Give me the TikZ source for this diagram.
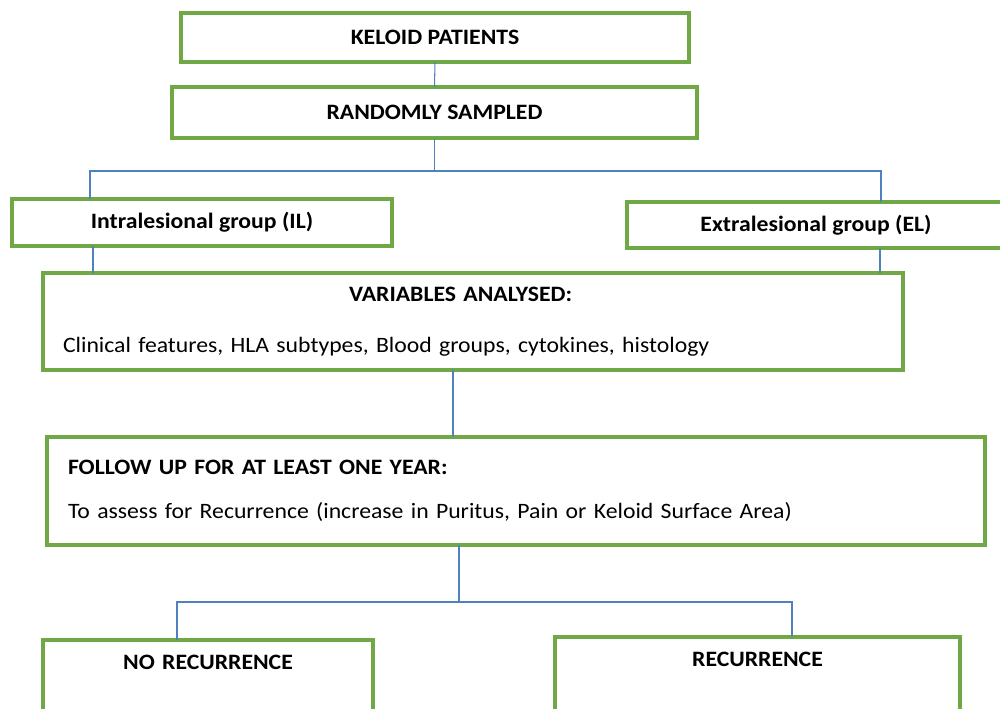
\documentclass[tikz,border=0pt]{standalone}
\usepackage{fontspec}
\setmainfont{Carlito}[FakeStretch=1.08]
\definecolor{boxgreen}{RGB}{112,168,70}
\definecolor{linkblue}{RGB}{79,129,189}
\tikzset{
  box/.style={draw=boxgreen,line width=2.4pt,inner sep=0pt,outer sep=0pt,font=\fontsize{12.5}{15}\selectfont},
  link/.style={draw=linkblue,line width=0.6pt},
}
\begin{document}
\begin{tikzpicture}
\clip (0,0) rectangle (20,14.18);
\node[box,minimum width=10.16cm,minimum height=0.98cm] (kp) at (8.70,13.43) {\bfseries KELOID PATIENTS};
\node[box,minimum width=10.5cm,minimum height=1.02cm] (rs) at (8.69,11.93) {\bfseries RANDOMLY SAMPLED};
\node[box,minimum width=7.6cm,minimum height=0.94cm] (il) at (4.04,9.73) {\bfseries Intralesional group (IL)};
\node[box,minimum width=7.56cm,minimum height=0.92cm] (el) at (16.32,9.68) {\bfseries Extralesional group (EL)};
\node[box,minimum width=17.2cm,minimum height=1.94cm,inner xsep=0.4cm,text width=16.4cm,align=left] (va) at (9.46,7.75)
  {\makebox[15.9cm]{\bfseries VARIABLES ANALYSED:}\\[0.49cm]Clinical features, HLA subtypes, Blood groups, cytokines, histology};
\node[box,minimum width=18.76cm,minimum height=2.16cm,inner xsep=0.42cm,text width=17.92cm,align=left] (fu) at (10.32,4.36)
  {\bfseries FOLLOW UP FOR AT LEAST ONE YEAR:\\[0.35cm]\mdseries To assess for Recurrence (increase in Puritus, Pain or Keloid Surface Area)};
\node[box,anchor=north west,text width=6.6cm,align=center,inner ysep=0.2cm,text height=0.4cm,text depth=1.4cm] (nr) at (0.86,1.38) {\bfseries NO RECURRENCE};
\node[box,anchor=north west,text width=8.1cm,align=center,inner ysep=0.2cm,text height=0.4cm,text depth=1.4cm] (rc) at (11.10,1.44) {\bfseries RECURRENCE};
\draw[link] (kp.south) -- (rs.north);
\draw[link] (rs.south) -- ++(0,-0.66) coordinate (split1);
\draw[link] ([xshift=1.56cm]il.north west) |- (split1) -| ([xshift=5.08cm]el.north west);
\draw[link] ([xshift=1.62cm]il.south west) -- ([xshift=1.62cm]il.south west |- va.north);
\draw[link] ([xshift=5.06cm]el.south west) -- ([xshift=5.06cm]el.south west |- va.north);
\draw[link] ([xshift=-0.4cm]va.south) -- ([xshift=-0.4cm]va.south |- fu.north);
\draw[link] ([xshift=-1.14cm]fu.south) -- ++(0,-1.14) coordinate (split2);
\draw[link] ([xshift=2.68cm]nr.north west) |- (split2) -| ([xshift=4.74cm]rc.north west);
\end{tikzpicture}
\end{document}
